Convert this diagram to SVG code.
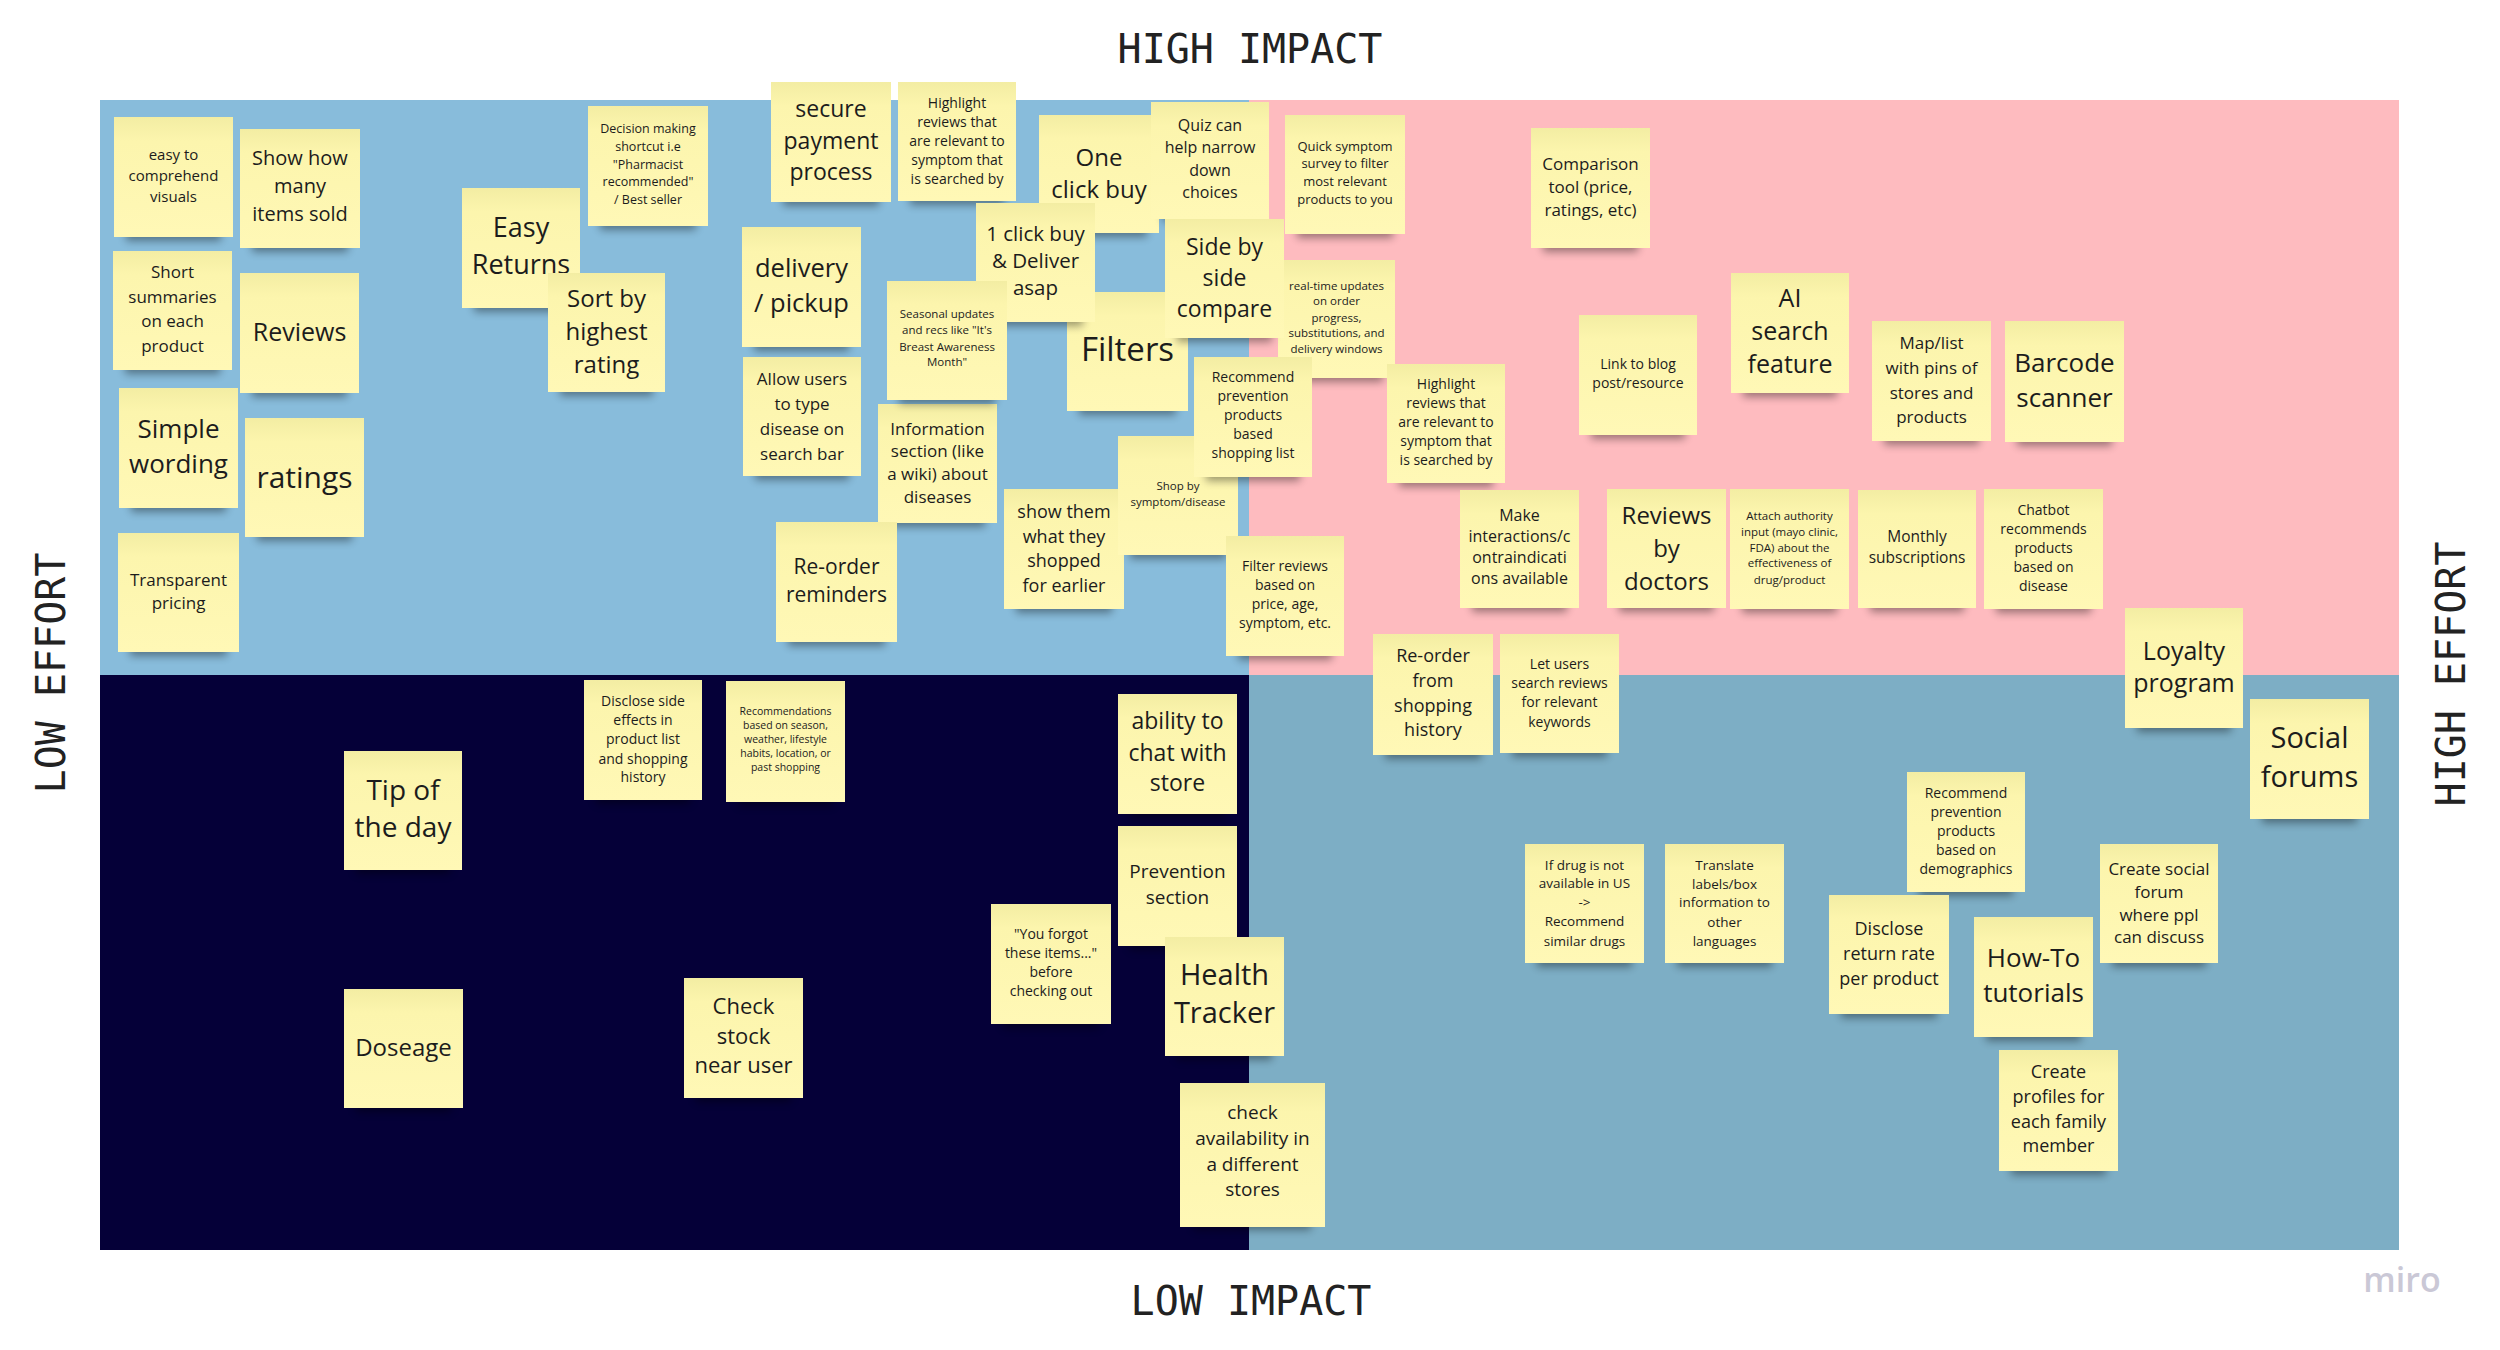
<svg xmlns="http://www.w3.org/2000/svg" width="2500" height="1350" viewBox="0 0 2500 1350">
<defs>
<linearGradient id="sg" x1="0" y1="0" x2="0" y2="1">
<stop offset="0" stop-color="#F3EDA3"/>
<stop offset="0.2" stop-color="#FCF5AD"/>
<stop offset="1" stop-color="#FFF8B6"/>
</linearGradient>
<filter id="blur" x="-20%" y="-100%" width="140%" height="300%"><feGaussianBlur stdDeviation="4"/></filter>
<style>
.st{fill:url(#sg)}
.sh{fill:#000;opacity:.38;filter:url(#blur)}
.t{font-family:"Open Sans","Noto Sans",sans-serif;fill:#1c1c1c;text-anchor:middle}
.ax{font-family:"DejaVu Sans Mono","Liberation Mono",monospace;font-size:40px;fill:#222;text-anchor:middle}
</style>
</defs>
<rect width="2500" height="1350" fill="#fff"/>
<g id="quadrants">
<rect x="100" y="100" width="1149" height="575" fill="#88BCDB"/>
<rect x="1249" y="100" width="1150" height="575" fill="#FEBBBF"/>
<rect x="100" y="675" width="1149" height="575" fill="#050038"/>
<rect x="1249" y="675" width="1150" height="575" fill="#7DAEC5"/>
</g>
<g id="axes">
<text class="ax" x="1250" y="63">HIGH IMPACT</text>
<text class="ax" x="1251" y="1315">LOW IMPACT</text>
<text class="ax" transform="translate(65,673) rotate(-90)">LOW EFFORT</text>
<text class="ax" transform="translate(2465,674) rotate(-90)">HIGH EFFORT</text>
</g>
<g id="connectors"/>
<g id="notes">
<g id="n1"><rect class="sh" x="126" y="223" width="95" height="18"/><rect class="st" x="114" y="117" width="119" height="120"/><text class="t" font-size="15"><tspan x="173.5" y="160">easy to</tspan><tspan x="173.5" y="181">comprehend</tspan><tspan x="173.5" y="202">visuals</tspan></text></g>
<g id="n2"><rect class="sh" x="252" y="234" width="96" height="18"/><rect class="st" x="240" y="129" width="120" height="119"/><text class="t" font-size="20"><tspan x="300" y="165">Show how</tspan><tspan x="300" y="193">many</tspan><tspan x="300" y="221">items sold</tspan></text></g>
<g id="n3"><rect class="sh" x="125" y="356" width="95" height="18"/><rect class="st" x="113" y="251" width="119" height="119"/><text class="t" font-size="17"><tspan x="172.5" y="278">Short</tspan><tspan x="172.5" y="303">summaries</tspan><tspan x="172.5" y="327">on each</tspan><tspan x="172.5" y="352">product</tspan></text></g>
<g id="n4"><rect class="sh" x="252" y="379" width="95" height="18"/><rect class="st" x="240" y="273" width="119" height="120"/><text class="t" font-size="25"><tspan x="299.5" y="341">Reviews</tspan></text></g>
<g id="n5"><rect class="sh" x="131" y="494" width="95" height="18"/><rect class="st" x="119" y="388" width="119" height="120"/><text class="t" font-size="26"><tspan x="178.5" y="438">Simple</tspan><tspan x="178.5" y="473">wording</tspan></text></g>
<g id="n6"><rect class="sh" x="257" y="523" width="95" height="18"/><rect class="st" x="245" y="418" width="119" height="119"/><text class="t" font-size="30"><tspan x="304.5" y="488">ratings</tspan></text></g>
<g id="n7"><rect class="sh" x="130" y="638" width="97" height="18"/><rect class="st" x="118" y="533" width="121" height="119"/><text class="t" font-size="17"><tspan x="178.5" y="586">Transparent</tspan><tspan x="178.5" y="609">pricing</tspan></text></g>
<g id="n8"><rect class="sh" x="474" y="294" width="94" height="18"/><rect class="st" x="462" y="188" width="118" height="120"/><text class="t" font-size="27"><tspan x="521" y="237">Easy</tspan><tspan x="521" y="274">Returns</tspan></text></g>
<g id="n9"><rect class="sh" x="560" y="378" width="93" height="18"/><rect class="st" x="548" y="273" width="117" height="119"/><text class="t" font-size="24"><tspan x="606.5" y="307">Sort by</tspan><tspan x="606.5" y="340">highest</tspan><tspan x="606.5" y="373">rating</tspan></text></g>
<g id="n10"><rect class="sh" x="600" y="212" width="96" height="18"/><rect class="st" x="588" y="106" width="120" height="120"/><text class="t" font-size="12.5"><tspan x="648" y="133">Decision making</tspan><tspan x="648" y="151">shortcut i.e</tspan><tspan x="648" y="169">"Pharmacist</tspan><tspan x="648" y="186">recommended"</tspan><tspan x="648" y="204">/ Best seller</tspan></text></g>
<g id="n11"><rect class="sh" x="783" y="188" width="96" height="18"/><rect class="st" x="771" y="82" width="120" height="120"/><text class="t" font-size="23"><tspan x="831" y="117">secure</tspan><tspan x="831" y="149">payment</tspan><tspan x="831" y="180">process</tspan></text></g>
<g id="n12"><rect class="sh" x="910" y="187" width="94" height="18"/><rect class="st" x="898" y="82" width="118" height="119"/><text class="t" font-size="14"><tspan x="957" y="108">Highlight</tspan><tspan x="957" y="127">reviews that</tspan><tspan x="957" y="146">are relevant to</tspan><tspan x="957" y="165">symptom that</tspan><tspan x="957" y="184">is searched by</tspan></text></g>
<g id="n13"><rect class="sh" x="754" y="333" width="95" height="18"/><rect class="st" x="742" y="227" width="119" height="120"/><text class="t" font-size="25.5"><tspan x="801.5" y="277">delivery</tspan><tspan x="801.5" y="312">/ pickup</tspan></text></g>
<g id="n14"><rect class="sh" x="755" y="462" width="94" height="18"/><rect class="st" x="743" y="357" width="118" height="119"/><text class="t" font-size="17"><tspan x="802" y="385">Allow users</tspan><tspan x="802" y="410">to type</tspan><tspan x="802" y="435">disease on</tspan><tspan x="802" y="460">search bar</tspan></text></g>
<g id="n15"><rect class="sh" x="890" y="509" width="95" height="18"/><rect class="st" x="878" y="404" width="119" height="119"/><text class="t" font-size="17"><tspan x="937.5" y="435">Information</tspan><tspan x="937.5" y="457">section (like</tspan><tspan x="937.5" y="480">a wiki) about</tspan><tspan x="937.5" y="503">diseases</tspan></text></g>
<g id="n16"><rect class="sh" x="788" y="628" width="97" height="18"/><rect class="st" x="776" y="522" width="121" height="120"/><text class="t" font-size="21"><tspan x="836.5" y="574">Re-order</tspan><tspan x="836.5" y="602">reminders</tspan></text></g>
<g id="n17"><rect class="sh" x="1016" y="595" width="96" height="18"/><rect class="st" x="1004" y="489" width="120" height="120"/><text class="t" font-size="18"><tspan x="1064" y="518">show them</tspan><tspan x="1064" y="543">what they</tspan><tspan x="1064" y="567">shopped</tspan><tspan x="1064" y="592">for earlier</tspan></text></g>
<g id="n18"><rect class="sh" x="1130" y="541" width="96" height="18"/><rect class="st" x="1118" y="436" width="120" height="119"/><text class="t" font-size="11.5"><tspan x="1178" y="490">Shop by</tspan><tspan x="1178" y="506">symptom/disease</tspan></text></g>
<g id="n20"><rect class="sh" x="1290" y="364" width="93" height="18"/><rect class="st" x="1278" y="260" width="117" height="118"/><text class="t" font-size="11.5"><tspan x="1336.5" y="290">real-time updates</tspan><tspan x="1336.5" y="305">on order</tspan><tspan x="1336.5" y="322">progress,</tspan><tspan x="1336.5" y="337">substitutions, and</tspan><tspan x="1336.5" y="353">delivery windows</tspan></text></g>
<g id="n19"><rect class="sh" x="1206" y="463" width="94" height="18"/><rect class="st" x="1194" y="357" width="118" height="120"/><text class="t" font-size="14"><tspan x="1253" y="382">Recommend</tspan><tspan x="1253" y="401">prevention</tspan><tspan x="1253" y="420">products</tspan><tspan x="1253" y="439">based</tspan><tspan x="1253" y="458">shopping list</tspan></text></g>
<g id="n21"><rect class="sh" x="1079" y="397" width="97" height="18"/><rect class="st" x="1067" y="292" width="121" height="119"/><text class="t" font-size="33"><tspan x="1127.5" y="361">Filters</tspan></text></g>
<g id="n22"><rect class="sh" x="1051" y="219" width="96" height="18"/><rect class="st" x="1039" y="115" width="120" height="118"/><text class="t" font-size="24"><tspan x="1099" y="166">One</tspan><tspan x="1099" y="198">click buy</tspan></text></g>
<g id="n23"><rect class="sh" x="1163" y="204" width="94" height="18"/><rect class="st" x="1151" y="102" width="118" height="117"/><text class="t" font-size="16"><tspan x="1210" y="131">Quiz can</tspan><tspan x="1210" y="153">help narrow</tspan><tspan x="1210" y="176">down</tspan><tspan x="1210" y="198">choices</tspan></text></g>
<g id="n24"><rect class="sh" x="1177" y="324" width="95" height="18"/><rect class="st" x="1165" y="219" width="119" height="119"/><text class="t" font-size="23"><tspan x="1224.5" y="255">Side by</tspan><tspan x="1224.5" y="286">side</tspan><tspan x="1224.5" y="317">compare</tspan></text></g>
<g id="n25"><rect class="sh" x="988" y="308" width="95" height="18"/><rect class="st" x="976" y="203" width="119" height="119"/><text class="t" font-size="20.5"><tspan x="1035.5" y="241">1 click buy</tspan><tspan x="1035.5" y="268">&amp; Deliver</tspan><tspan x="1035.5" y="295">asap</tspan></text></g>
<g id="n26"><rect class="sh" x="899" y="386" width="96" height="18"/><rect class="st" x="887" y="281" width="120" height="119"/><text class="t" font-size="11.5"><tspan x="947" y="318">Seasonal updates</tspan><tspan x="947" y="334">and recs like "It's</tspan><tspan x="947" y="351">Breast Awareness</tspan><tspan x="947" y="366">Month"</tspan></text></g>
<g id="n27"><rect class="sh" x="1297" y="220" width="96" height="18"/><rect class="st" x="1285" y="115" width="120" height="119"/><text class="t" font-size="13"><tspan x="1345" y="151">Quick symptom</tspan><tspan x="1345" y="168">survey to filter</tspan><tspan x="1345" y="186">most relevant</tspan><tspan x="1345" y="204">products to you</tspan></text></g>
<g id="n28"><rect class="sh" x="1543" y="234" width="95" height="18"/><rect class="st" x="1531" y="128" width="119" height="120"/><text class="t" font-size="17"><tspan x="1590.5" y="170">Comparison</tspan><tspan x="1590.5" y="193">tool (price,</tspan><tspan x="1590.5" y="216">ratings, etc)</tspan></text></g>
<g id="n29"><rect class="sh" x="1399" y="469" width="94" height="18"/><rect class="st" x="1387" y="364" width="118" height="119"/><text class="t" font-size="14"><tspan x="1446" y="389">Highlight</tspan><tspan x="1446" y="408">reviews that</tspan><tspan x="1446" y="427">are relevant to</tspan><tspan x="1446" y="446">symptom that</tspan><tspan x="1446" y="465">is searched by</tspan></text></g>
<g id="n30"><rect class="sh" x="1591" y="421" width="94" height="18"/><rect class="st" x="1579" y="315" width="118" height="120"/><text class="t" font-size="14"><tspan x="1638" y="369">Link to blog</tspan><tspan x="1638" y="388">post/resource</tspan></text></g>
<g id="n31"><rect class="sh" x="1743" y="379" width="94" height="18"/><rect class="st" x="1731" y="273" width="118" height="120"/><text class="t" font-size="25"><tspan x="1790" y="307">AI</tspan><tspan x="1790" y="340">search</tspan><tspan x="1790" y="373">feature</tspan></text></g>
<g id="n32"><rect class="sh" x="1884" y="427" width="95" height="18"/><rect class="st" x="1872" y="321" width="119" height="120"/><text class="t" font-size="17"><tspan x="1931.5" y="349">Map/list</tspan><tspan x="1931.5" y="374">with pins of</tspan><tspan x="1931.5" y="399">stores and</tspan><tspan x="1931.5" y="423">products</tspan></text></g>
<g id="n33"><rect class="sh" x="2017" y="428" width="95" height="18"/><rect class="st" x="2005" y="321" width="119" height="121"/><text class="t" font-size="26"><tspan x="2064.5" y="372">Barcode</tspan><tspan x="2064.5" y="407">scanner</tspan></text></g>
<g id="n34"><rect class="sh" x="1238" y="642" width="94" height="18"/><rect class="st" x="1226" y="536" width="118" height="120"/><text class="t" font-size="14"><tspan x="1285" y="571">Filter reviews</tspan><tspan x="1285" y="590">based on</tspan><tspan x="1285" y="609">price, age,</tspan><tspan x="1285" y="628">symptom, etc.</tspan></text></g>
<g id="n35"><rect class="sh" x="1472" y="594" width="95" height="18"/><rect class="st" x="1460" y="490" width="119" height="118"/><text class="t" font-size="16"><tspan x="1519.5" y="521">Make</tspan><tspan x="1519.5" y="542">interactions/c</tspan><tspan x="1519.5" y="563">ontraindicati</tspan><tspan x="1519.5" y="584">ons available</tspan></text></g>
<g id="n36"><rect class="sh" x="1619" y="594" width="95" height="18"/><rect class="st" x="1607" y="489" width="119" height="119"/><text class="t" font-size="24"><tspan x="1666.5" y="524">Reviews</tspan><tspan x="1666.5" y="557">by</tspan><tspan x="1666.5" y="590">doctors</tspan></text></g>
<g id="n37"><rect class="sh" x="1742" y="595" width="95" height="18"/><rect class="st" x="1730" y="489" width="119" height="120"/><text class="t" font-size="11.5"><tspan x="1789.5" y="520">Attach authority</tspan><tspan x="1789.5" y="536">input (mayo clinic,</tspan><tspan x="1789.5" y="552">FDA) about the</tspan><tspan x="1789.5" y="567">effectiveness of</tspan><tspan x="1789.5" y="584">drug/product</tspan></text></g>
<g id="n38"><rect class="sh" x="1870" y="594" width="94" height="18"/><rect class="st" x="1858" y="490" width="118" height="118"/><text class="t" font-size="15.5"><tspan x="1917" y="542">Monthly</tspan><tspan x="1917" y="563">subscriptions</tspan></text></g>
<g id="n39"><rect class="sh" x="1996" y="595" width="95" height="18"/><rect class="st" x="1984" y="489" width="119" height="120"/><text class="t" font-size="14"><tspan x="2043.5" y="515">Chatbot</tspan><tspan x="2043.5" y="534">recommends</tspan><tspan x="2043.5" y="553">products</tspan><tspan x="2043.5" y="572">based on</tspan><tspan x="2043.5" y="591">disease</tspan></text></g>
<g id="n40"><rect class="sh" x="2137" y="714" width="94" height="18"/><rect class="st" x="2125" y="608" width="118" height="120"/><text class="t" font-size="25"><tspan x="2184" y="660">Loyalty</tspan><tspan x="2184" y="692">program</tspan></text></g>
<g id="n41"><rect class="sh" x="1385" y="741" width="96" height="18"/><rect class="st" x="1373" y="634" width="120" height="121"/><text class="t" font-size="18"><tspan x="1433" y="662">Re-order</tspan><tspan x="1433" y="687">from</tspan><tspan x="1433" y="712">shopping</tspan><tspan x="1433" y="736">history</tspan></text></g>
<g id="n42"><rect class="sh" x="1512" y="739" width="95" height="18"/><rect class="st" x="1500" y="634" width="119" height="119"/><text class="t" font-size="14"><tspan x="1559.5" y="669">Let users</tspan><tspan x="1559.5" y="688">search reviews</tspan><tspan x="1559.5" y="707">for relevant</tspan><tspan x="1559.5" y="727">keywords</tspan></text></g>
<g id="n43"><rect class="sh" x="596" y="786" width="94" height="18"/><rect class="st" x="584" y="680" width="118" height="120"/><text class="t" font-size="14"><tspan x="643" y="706">Disclose side</tspan><tspan x="643" y="725">effects in</tspan><tspan x="643" y="744">product list</tspan><tspan x="643" y="764">and shopping</tspan><tspan x="643" y="782">history</tspan></text></g>
<g id="n44"><rect class="sh" x="738" y="788" width="95" height="18"/><rect class="st" x="726" y="681" width="119" height="121"/><text class="t" font-size="10.5"><tspan x="785.5" y="714.5">Recommendations</tspan><tspan x="785.5" y="728.5">based on season,</tspan><tspan x="785.5" y="742.5">weather, lifestyle</tspan><tspan x="785.5" y="756.5">habits, location, or</tspan><tspan x="785.5" y="770.5">past shopping</tspan></text></g>
<g id="n45"><rect class="sh" x="356" y="856" width="94" height="18"/><rect class="st" x="344" y="751" width="118" height="119"/><text class="t" font-size="28"><tspan x="403" y="800">Tip of</tspan><tspan x="403" y="837">the day</tspan></text></g>
<g id="n46"><rect class="sh" x="356" y="1094" width="95" height="18"/><rect class="st" x="344" y="989" width="119" height="119"/><text class="t" font-size="24"><tspan x="403.5" y="1056">Doseage</tspan></text></g>
<g id="n47"><rect class="sh" x="696" y="1084" width="95" height="18"/><rect class="st" x="684" y="978" width="119" height="120"/><text class="t" font-size="22"><tspan x="743.5" y="1014">Check</tspan><tspan x="743.5" y="1044">stock</tspan><tspan x="743.5" y="1073">near user</tspan></text></g>
<g id="n48"><rect class="sh" x="1003" y="1010" width="96" height="18"/><rect class="st" x="991" y="904" width="120" height="120"/><text class="t" font-size="14"><tspan x="1051" y="939">"You forgot</tspan><tspan x="1051" y="958">these items..."</tspan><tspan x="1051" y="977">before</tspan><tspan x="1051" y="996">checking out</tspan></text></g>
<g id="n49"><rect class="sh" x="1130" y="800" width="95" height="18"/><rect class="st" x="1118" y="694" width="119" height="120"/><text class="t" font-size="23"><tspan x="1177.5" y="729">ability to</tspan><tspan x="1177.5" y="761">chat with</tspan><tspan x="1177.5" y="791">store</tspan></text></g>
<g id="n50"><rect class="sh" x="1130" y="932" width="95" height="18"/><rect class="st" x="1118" y="826" width="119" height="120"/><text class="t" font-size="19"><tspan x="1177.5" y="878">Prevention</tspan><tspan x="1177.5" y="904">section</tspan></text></g>
<g id="n51"><rect class="sh" x="1177" y="1042" width="95" height="18"/><rect class="st" x="1165" y="937" width="119" height="119"/><text class="t" font-size="29"><tspan x="1224.5" y="985">Health</tspan><tspan x="1224.5" y="1023">Tracker</tspan></text></g>
<g id="n52"><rect class="sh" x="1194" y="1212" width="117" height="18"/><rect class="st" x="1180" y="1083" width="145" height="144"/><text class="t" font-size="19"><tspan x="1252.5" y="1119">check</tspan><tspan x="1252.5" y="1145">availability in</tspan><tspan x="1252.5" y="1171">a different</tspan><tspan x="1252.5" y="1196">stores</tspan></text></g>
<g id="n53"><rect class="sh" x="1537" y="949" width="95" height="18"/><rect class="st" x="1525" y="844" width="119" height="119"/><text class="t" font-size="13.5"><tspan x="1584.5" y="870">If drug is not</tspan><tspan x="1584.5" y="888">available in US</tspan><tspan x="1584.5" y="907">-&gt;</tspan><tspan x="1584.5" y="926">Recommend</tspan><tspan x="1584.5" y="946">similar drugs</tspan></text></g>
<g id="n54"><rect class="sh" x="1677" y="949" width="95" height="18"/><rect class="st" x="1665" y="844" width="119" height="119"/><text class="t" font-size="13.5"><tspan x="1724.5" y="870">Translate</tspan><tspan x="1724.5" y="889">labels/box</tspan><tspan x="1724.5" y="907">information to</tspan><tspan x="1724.5" y="927">other</tspan><tspan x="1724.5" y="946">languages</tspan></text></g>
<g id="n55"><rect class="sh" x="1919" y="878" width="94" height="18"/><rect class="st" x="1907" y="772" width="118" height="120"/><text class="t" font-size="14"><tspan x="1966" y="798">Recommend</tspan><tspan x="1966" y="817">prevention</tspan><tspan x="1966" y="836">products</tspan><tspan x="1966" y="855">based on</tspan><tspan x="1966" y="874">demographics</tspan></text></g>
<g id="n56"><rect class="sh" x="1841" y="1000" width="96" height="18"/><rect class="st" x="1829" y="895" width="120" height="119"/><text class="t" font-size="18"><tspan x="1889" y="935">Disclose</tspan><tspan x="1889" y="960">return rate</tspan><tspan x="1889" y="985">per product</tspan></text></g>
<g id="n57"><rect class="sh" x="1986" y="1023" width="95" height="18"/><rect class="st" x="1974" y="917" width="119" height="120"/><text class="t" font-size="26"><tspan x="2033.5" y="967">How-To</tspan><tspan x="2033.5" y="1002">tutorials</tspan></text></g>
<g id="n58"><rect class="sh" x="2112" y="949" width="94" height="18"/><rect class="st" x="2100" y="844" width="118" height="119"/><text class="t" font-size="17"><tspan x="2159" y="875">Create social</tspan><tspan x="2159" y="898">forum</tspan><tspan x="2159" y="921">where ppl</tspan><tspan x="2159" y="943">can discuss</tspan></text></g>
<g id="n59"><rect class="sh" x="2011" y="1157" width="95" height="18"/><rect class="st" x="1999" y="1050" width="119" height="121"/><text class="t" font-size="18"><tspan x="2058.5" y="1078">Create</tspan><tspan x="2058.5" y="1103">profiles for</tspan><tspan x="2058.5" y="1128">each family</tspan><tspan x="2058.5" y="1152">member</tspan></text></g>
<g id="n60"><rect class="sh" x="2262" y="805" width="95" height="18"/><rect class="st" x="2250" y="699" width="119" height="120"/><text class="t" font-size="29"><tspan x="2309.5" y="748">Social</tspan><tspan x="2309.5" y="787">forums</tspan></text></g>
</g>
<text x="2402" y="1292" font-family="'Open Sans','Liberation Sans',sans-serif" font-weight="600" font-size="34" fill="#CAC8D6" text-anchor="middle">miro</text>
</svg>
